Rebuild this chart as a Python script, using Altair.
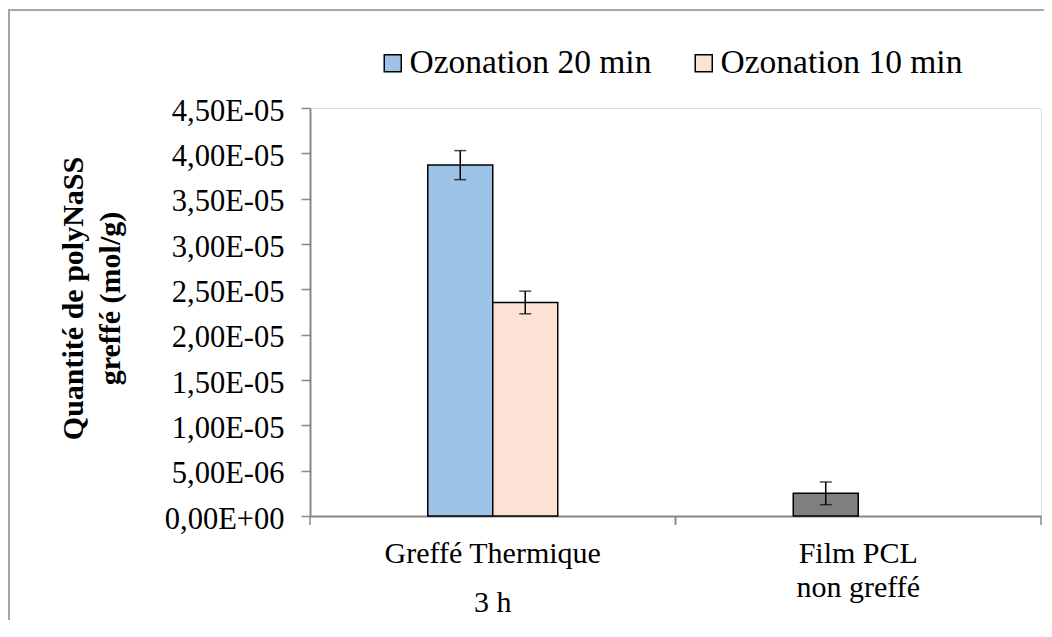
import altair as alt
import pandas as pd

# ---------------- data ----------------
CATEGORIES = ["Greffé Thermique 3 h", "Film PCL non greffé"]
CATEGORY_LABELS = ["Greffé Thermique\n3 h", "Film PCL\nnon greffé"]
SERIES = ["Ozonation 20 min", "Ozonation 10 min"]

BAR_CATEGORY = ["Greffé Thermique 3 h", "Greffé Thermique 3 h", "Film PCL non greffé"]
BAR_SLOT = ["Ozonation 20 min", "Ozonation 10 min", "Ozonation 20 min"]
BAR_FILL_KEY = ["Ozonation 20 min", "Ozonation 10 min", "Film PCL non greffé"]
BAR_VALUE = [3.87e-05, 2.355e-05, 2.5e-06]
BAR_ERROR = [1.6e-06, 1.25e-06, 1.25e-06]

FILL_KEYS = ["Ozonation 20 min", "Ozonation 10 min", "Film PCL non greffé"]
FILL_COLORS = ["#9DC3E6", "#FBE2D5", "#808080"]

Y_TICKS = [0, 5e-06, 1e-05, 1.5e-05, 2e-05, 2.5e-05, 3e-05, 3.5e-05, 4e-05, 4.5e-05]
Y_TITLE = ["Quantité de polyNaSS", "greffé (mol/g)"]

FONT = "Liberation Serif"

PLOT_W, PLOT_H = 731, 408
BAND = PLOT_W / len(CATEGORIES)
BAR_W = 65

df = pd.DataFrame({
    "category": BAR_CATEGORY,
    "slot": BAR_SLOT,
    "fillkey": BAR_FILL_KEY,
    "value": BAR_VALUE,
    "err": BAR_ERROR,
})
df["low"] = df["value"] - df["err"]
df["high"] = df["value"] + df["err"]

cat_df = pd.DataFrame({"category": CATEGORIES, "label": CATEGORY_LABELS})

# y label expression: 4,50E-05 style
s = "format(datum.value, '.2e')"
y_expr = (f"replace(split({s}, 'e')[0], '.', ',') + 'E' + substring(split({s}, 'e')[1], 0, 1)"
          f" + (length(split({s}, 'e')[1]) < 3 ? '0' : '') + substring(split({s}, 'e')[1], 1)")

AXIS_GRAY = "#878787"


def X(band_position=None):
    kw = {}
    if band_position is not None:
        kw["bandPosition"] = band_position
    return alt.X(
        "category:N", sort=CATEGORIES,
        scale=alt.Scale(paddingInner=0, paddingOuter=0),
        axis=alt.Axis(title=None, labels=False, ticks=False,
                      domainColor=AXIS_GRAY, domainWidth=2),
        **kw,
    )


def XO():
    start = (BAND - BAR_W * len(SERIES)) / 2
    return alt.XOffset("slot:N", sort=SERIES,
                       scale=alt.Scale(range=[start, start + BAR_W * len(SERIES)],
                                       paddingOuter=0, paddingInner=0))


def Y(field):
    return alt.Y(
        field,
        scale=alt.Scale(domain=[0, 4.5e-05], nice=False, zero=True),
        axis=alt.Axis(values=Y_TICKS, labelExpr=y_expr, grid=False, tickSize=9,
                      labelPadding=17, labelFontSize=30.5, labelFont=FONT, labelColor="black",
                      labelOffset=3,
                      domainColor=AXIS_GRAY, domainWidth=2, tickColor=AXIS_GRAY, tickWidth=1.5,
                      title=Y_TITLE, titleFontSize=30, titleFont=FONT, titleFontWeight="bold",
                      titleColor="black", titleX=-252, titleY=190, titleAngle=270,
                      titleBaseline="top", titleAlign="center", titleLineHeight=37),
    )


base = alt.Chart(df)

bars = base.mark_bar(stroke="black", strokeWidth=1.5).encode(
    x=X(), xOffset=XO(), y=Y("value:Q"),
    fill=alt.Fill(
        "fillkey:N",
        scale=alt.Scale(domain=FILL_KEYS, range=FILL_COLORS),
        legend=alt.Legend(values=SERIES, title=None, orient="none", legendX=66, legendY=-62,
                          direction="horizontal", symbolType="square", symbolSize=289,
                          symbolStrokeColor="black", symbolStrokeWidth=1.5,
                          labelFontSize=33.5, labelFont=FONT, labelColor="black",
                          labelOffset=0, columnPadding=35, labelLimit=500),
    ),
)

err_rule = base.mark_rule(color="black", strokeWidth=1.5).encode(
    x=X(), xOffset=XO(), y=Y("low:Q"), y2="high:Q"
)
cap_low = base.mark_tick(color="black", size=12, thickness=1.5).encode(
    x=X(), xOffset=XO(), y=Y("low:Q")
)
cap_high = base.mark_tick(color="black", size=12, thickness=1.5).encode(
    x=X(), xOffset=XO(), y=Y("high:Q")
)

# category-boundary tick marks on the x axis
tick_start = alt.Chart(cat_df).mark_rule(color=AXIS_GRAY, strokeWidth=1.5).encode(
    x=X(0), y=alt.value(PLOT_H), y2=alt.value(PLOT_H + 9)
)
tick_end = alt.Chart(cat_df).mark_rule(color=AXIS_GRAY, strokeWidth=1.5).encode(
    x=X(1), y=alt.value(PLOT_H), y2=alt.value(PLOT_H + 9)
)

# category labels (two lines, different line spacing as in the original)
label_layers = []
for cat, lh in zip(CATEGORIES, [49, 34]):
    label_layers.append(
        alt.Chart(cat_df).transform_filter(alt.datum.category == cat).mark_text(
            font=FONT, fontSize=30, color="black", baseline="top", align="center",
            lineBreak="\n", lineHeight=lh,
        ).encode(x=X(), y=alt.value(PLOT_H + 23), text="label:N")
    )

frame_data = pd.DataFrame({"k": [0]})
frame_top = alt.Chart(frame_data).mark_rule(color="#a6a6a6", strokeWidth=2).encode(
    x=alt.value(-302), x2=alt.value(1000), y=alt.value(-98)
)
frame_left = alt.Chart(frame_data).mark_rule(color="#a6a6a6", strokeWidth=2).encode(
    x=alt.value(-301), y=alt.value(-98), y2=alt.value(700)
)

chart = alt.layer(frame_top, frame_left, tick_start, tick_end,
                  bars, err_rule, cap_low, cap_high, *label_layers).properties(
    width=PLOT_W, height=PLOT_H,
    autosize=alt.AutoSizeParams(type="none"),
    padding={"left": 302, "top": 100, "right": 3, "bottom": 104},
).configure_view(stroke="#595959", strokeWidth=1.5).configure(background="white")

chart.save("out.html", embed_options={"renderer": "svg", "actions": False})
